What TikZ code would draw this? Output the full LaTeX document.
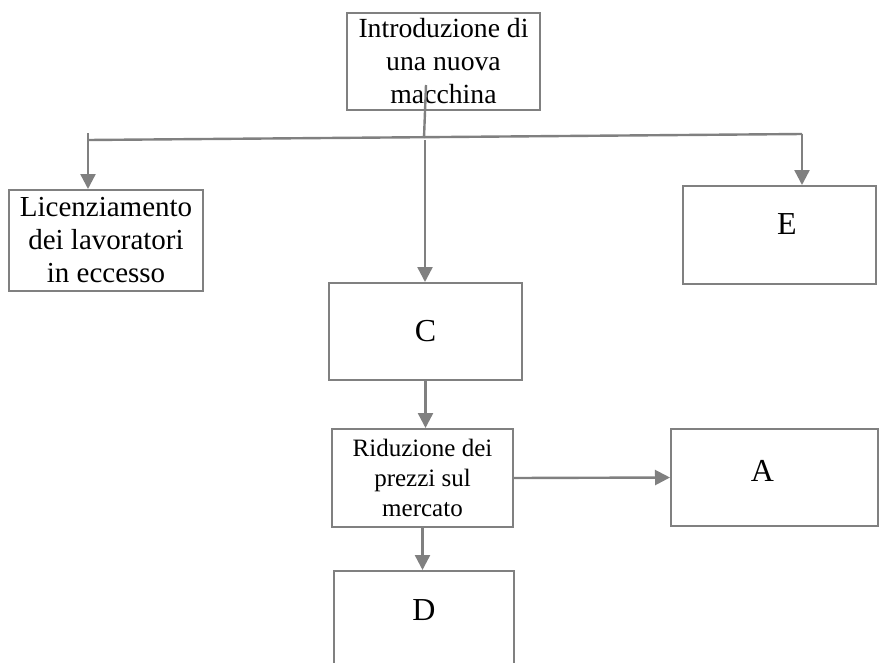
\documentclass[tikz,border=0pt]{standalone}
\usepackage{fontspec}
\setmainfont{Liberation Serif}
\usetikzlibrary{arrows.meta}
\definecolor{linegray}{RGB}{128,128,128}
\begin{document}
\begin{tikzpicture}[x=1pt, y=-1pt,
  box/.style={draw=linegray, line width=2pt, rectangle, inner sep=0pt, align=center},
  conn/.style={draw=linegray, line width=2.4pt},
  arr/.style={conn, -{Triangle[length=15pt, width=15pt]}}]
\useasboundingbox (0,0) rectangle (879,662);
\clip (0,0) rectangle (879,662);
\node[box, minimum width=193pt, minimum height=97pt, font=\fontsize{27.7}{33}\selectfont] (intro) at (443.5,61.5){Introduzione di\\una nuova\\macchina};
\node[box, minimum width=194pt, minimum height=101pt, font=\fontsize{29}{33}\selectfont] (licenz) at (106,240.5){Licenziamento\\dei lavoratori\\in eccesso};
\node[box, minimum width=193pt, minimum height=98pt, text depth=22pt, font=\fontsize{32}{36}\selectfont] (boxE) at (779.5,235){\hspace*{15pt}E};
\node[box, minimum width=193pt, minimum height=97pt, font=\fontsize{32}{36}\selectfont] (boxC) at (425.5,331.5){C};
\node[box, minimum width=181pt, minimum height=98pt, font=\fontsize{25}{30}\selectfont] (rid) at (422.5,478){Riduzione dei\\prezzi sul\\mercato};
\node[box, minimum width=207pt, minimum height=97pt, text depth=14pt, font=\fontsize{32}{36}\selectfont] (boxA) at (774.5,477.5){A\hspace*{24pt}};
\node[box, minimum width=180pt, minimum height=97pt, text depth=18pt, font=\fontsize{32}{36}\selectfont] (boxD) at (424,619.5){D};
\coordinate (stem) at (426,85);
\coordinate (join) at (424,138);
\coordinate (busL) at (88,140);
\coordinate (busR) at (802,134);
\coordinate (dropL) at (88,133);
\coordinate (dropC) at (425,140);
\draw[conn](stem) -- (join);
\draw[conn](busL) -- (busR);
\draw[arr](dropL) -- (dropL |- licenz.north);
\draw[arr](busR) -- (busR |- boxE.north);
\draw[arr](dropC) -- (dropC |- boxC.north);
\draw[arr](boxC.south) -- (boxC.south |- rid.north);
\draw[arr](rid.east) -- (boxA.west);
\draw[arr](rid.south) -- (rid.south |- boxD.north);

\end{tikzpicture}
\end{document}
